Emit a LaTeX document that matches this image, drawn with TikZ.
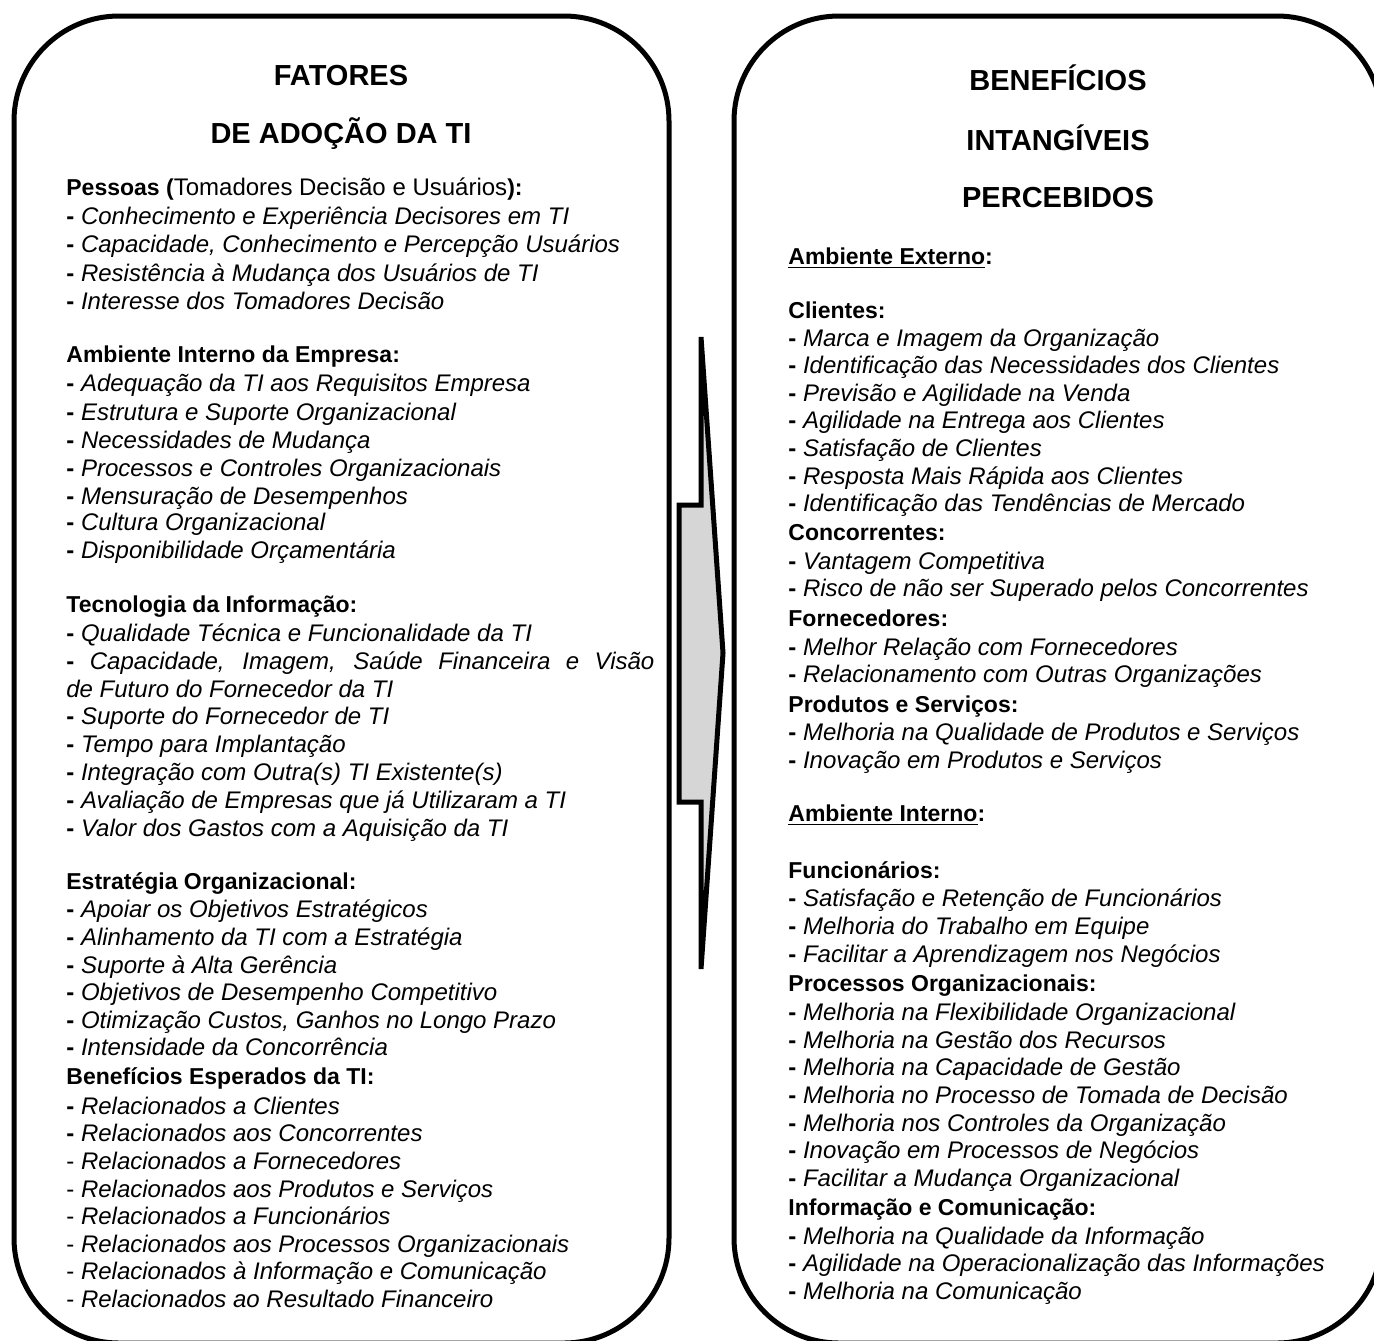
\documentclass[tikz,border=0pt]{standalone}
\usepackage{fontspec}
\setmainfont{Liberation Sans}
\newcommand\dd{\textup{\bfseries -}}
\newcommand\dl{\textup{\mdseries -}}
\begin{document}
\begin{tikzpicture}[x=0.5pt,y=-0.5pt,
  frame/.style={line width=2.5pt, rounded corners=52.5pt},
  itm/.style={anchor=base west, inner sep=0pt, font=\fontsize{12}{14}\selectfont\itshape},
  hd/.style={anchor=base west, inner sep=0pt, font=\fontsize{11.5}{14}\selectfont\bfseries},
  ttl/.style={anchor=base, inner sep=0pt, font=\fontsize{14.5}{17}\selectfont\bfseries},
  arrowbody/.style={line width=2.5pt, fill=black!16}]
\useasboundingbox (0,0) rectangle (1374,1340);
% the two panels
\begin{scope}
  \clip (0,0) rectangle (1374,1340);
  \draw[frame] (14,16) rectangle (669,1343);
  \draw[frame] (734,16) rectangle (1382,1343);
\end{scope}
% block arrow between the panels
\draw[arrowbody] (701,337) -- (723,653) -- (701,969) -- (701,802)
  -- (679,802) -- (679,505) -- (701,505) -- cycle;

% ---- left panel ----
\node[ttl] (lt1) at (341,85) {FATORES};
\node[ttl] (lt2) at (341,143) {DE ADOÇÃO DA TI};

\node[hd] (lh1) at (66,195) {Pessoas ({\fontsize{12}{14}\selectfont\mdseries Tomadores Decisão e Usuários}):};
\node[itm] (la1) at (66,224) {\dd\ Conhecimento e Experiência Decisores em TI};
\node[itm] (la2) at (66,252) {\dd\ Capacidade, Conhecimento e Percepção Usuários};
\node[itm] (la3) at (66,281) {\dd\ Resistência à Mudança dos Usuários de TI};
\node[itm] (la4) at (66,309) {\dd\ Interesse dos Tomadores Decisão};

\node[hd] (lh2) at (66,362) {Ambiente Interno da Empresa:};
\node[itm] (lb1) at (66,391) {\dd\ Adequação da TI aos Requisitos Empresa};
\node[itm] (lb2) at (66,420) {\dd\ Estrutura e Suporte Organizacional};
\node[itm] (lb3) at (66,448) {\dd\ Necessidades de Mudança};
\node[itm] (lb4) at (66,476) {\dd\ Processos e Controles Organizacionais};
\node[itm] (lb5) at (66,504) {\dd\ Mensuração de Desempenhos};
\node[itm] (lb6) at (66,530) {\dd\ Cultura Organizacional};
\node[itm] (lb7) at (66,558) {\dd\ Disponibilidade Orçamentária};

\node[hd] (lh3) at (66,612) {Tecnologia da Informação:};
\node[itm] (lc1) at (66,641) {\dd\ Qualidade Técnica e Funcionalidade da TI};
% first line of a justified two-line entry
\node[itm] (lc2) at (66,669) {\hbox to 294pt{\dd\ Capacidade, Imagem, Saúde Financeira e Visão}};
\node[itm] (lc2b) at (66,697) {de Futuro do Fornecedor da TI};
\node[itm] (lc3) at (66,724) {\dd\ Suporte do Fornecedor de TI};
\node[itm] (lc4) at (66,752) {\dd\ Tempo para Implantação};
\node[itm] (lc5) at (66,780) {\dd\ Integração com Outra(s) TI Existente(s)};
\node[itm] (lc6) at (66,808) {\dd\ Avaliação de Empresas que já Utilizaram a TI};
\node[itm] (lc7) at (66,836) {\dd\ Valor dos Gastos com a Aquisição da TI};

\node[hd] (lh4) at (66,889) {Estratégia Organizacional:};
\node[itm] (ld1) at (66,917) {\dd\ Apoiar os Objetivos Estratégicos};
\node[itm] (ld2) at (66,945) {\dd\ Alinhamento da TI com a Estratégia};
\node[itm] (ld3) at (66,973) {\dd\ Suporte à Alta Gerência};
\node[itm] (ld4) at (66,1000) {\dd\ Objetivos de Desempenho Competitivo};
\node[itm] (ld5) at (66,1028) {\dd\ Otimização Custos, Ganhos no Longo Prazo};
\node[itm] (ld6) at (66,1055) {\dd\ Intensidade da Concorrência};

\node[hd] (lh5) at (66,1084) {Benefícios Esperados da TI:};
\node[itm] (le1) at (66,1114) {\dd\ Relacionados a Clientes};
\node[itm] (le2) at (66,1141) {\dd\ Relacionados aos Concorrentes};
\node[itm] (le3) at (66,1169) {\dl\ Relacionados a Fornecedores};
\node[itm] (le4) at (66,1197) {\dl\ Relacionados aos Produtos e Serviços};
\node[itm] (le5) at (66,1224) {\dl\ Relacionados a Funcionários};
\node[itm] (le6) at (66,1252) {\dl\ Relacionados aos Processos Organizacionais};
\node[itm] (le7) at (66,1279) {\dl\ Relacionados à Informação e Comunicação};
\node[itm] (le8) at (66,1307) {\dl\ Relacionados ao Resultado Financeiro};

% ---- right panel ----
\node[ttl] (rt1) at (1058,90) {BENEFÍCIOS};
\node[ttl] (rt2) at (1058,150) {INTANGÍVEIS};
\node[ttl] (rt3) at (1058,207) {PERCEBIDOS};

\node[hd] (rs1) at (788,264) {\underline{Ambiente Externo}:};

\node[hd] (rh1) at (788,318) {Clientes:};
\node[itm] (ra1) at (788,346) {\dd\ Marca e Imagem da Organização};
\node[itm] (ra2) at (788,373) {\dd\ Identificação das Necessidades dos Clientes};
\node[itm] (ra3) at (788,401) {\dd\ Previsão e Agilidade na Venda};
\node[itm] (ra4) at (788,428) {\dd\ Agilidade na Entrega aos Clientes};
\node[itm] (ra5) at (788,456) {\dd\ Satisfação de Clientes};
\node[itm] (ra6) at (788,484) {\dd\ Resposta Mais Rápida aos Clientes};
\node[itm] (ra7) at (788,511) {\dd\ Identificação das Tendências de Mercado};

\node[hd] (rh2) at (788,540) {Concorrentes:};
\node[itm] (rb1) at (788,569) {\dd\ Vantagem Competitiva};
\node[itm] (rb2) at (788,596) {\dd\ Risco de não ser Superado pelos Concorrentes};

\node[hd] (rh3) at (788,626) {Fornecedores:};
\node[itm] (rc1) at (788,655) {\dd\ Melhor Relação com Fornecedores};
\node[itm] (rc2) at (788,682) {\dd\ Relacionamento com Outras Organizações};

\node[hd] (rh4) at (788,712) {Produtos e Serviços:};
\node[itm] (rd1) at (788,740) {\dd\ Melhoria na Qualidade de Produtos e Serviços};
\node[itm] (rd2) at (788,768) {\dd\ Inovação em Produtos e Serviços};

\node[hd] (rs2) at (788,821) {\underline{Ambiente Interno}:};

\node[hd] (rh5) at (788,878) {Funcionários:};
\node[itm] (re1) at (788,906) {\dd\ Satisfação e Retenção de Funcionários};
\node[itm] (re2) at (788,934) {\dd\ Melhoria do Trabalho em Equipe};
\node[itm] (re3) at (788,962) {\dd\ Facilitar a Aprendizagem nos Negócios};

\node[hd] (rh6) at (788,991) {Processos Organizacionais:};
\node[itm] (rf1) at (788,1020) {\dd\ Melhoria na Flexibilidade Organizacional};
\node[itm] (rf2) at (788,1048) {\dd\ Melhoria na Gestão dos Recursos};
\node[itm] (rf3) at (788,1075) {\dd\ Melhoria na Capacidade de Gestão};
\node[itm] (rf4) at (788,1103) {\dd\ Melhoria no Processo de Tomada de Decisão};
\node[itm] (rf5) at (788,1131) {\dd\ Melhoria nos Controles da Organização};
\node[itm] (rf6) at (788,1158) {\dd\ Inovação em Processos de Negócios};
\node[itm] (rf7) at (788,1186) {\dd\ Facilitar a Mudança Organizacional};

\node[hd] (rh7) at (788,1215) {Informação e Comunicação:};
\node[itm] (rg1) at (788,1244) {\dd\ Melhoria na Qualidade da Informação};
\node[itm] (rg2) at (788,1271) {\dd\ Agilidade na Operacionalização das Informações};
\node[itm] (rg3) at (788,1299) {\dd\ Melhoria na Comunicação};
\end{tikzpicture}
\end{document}
